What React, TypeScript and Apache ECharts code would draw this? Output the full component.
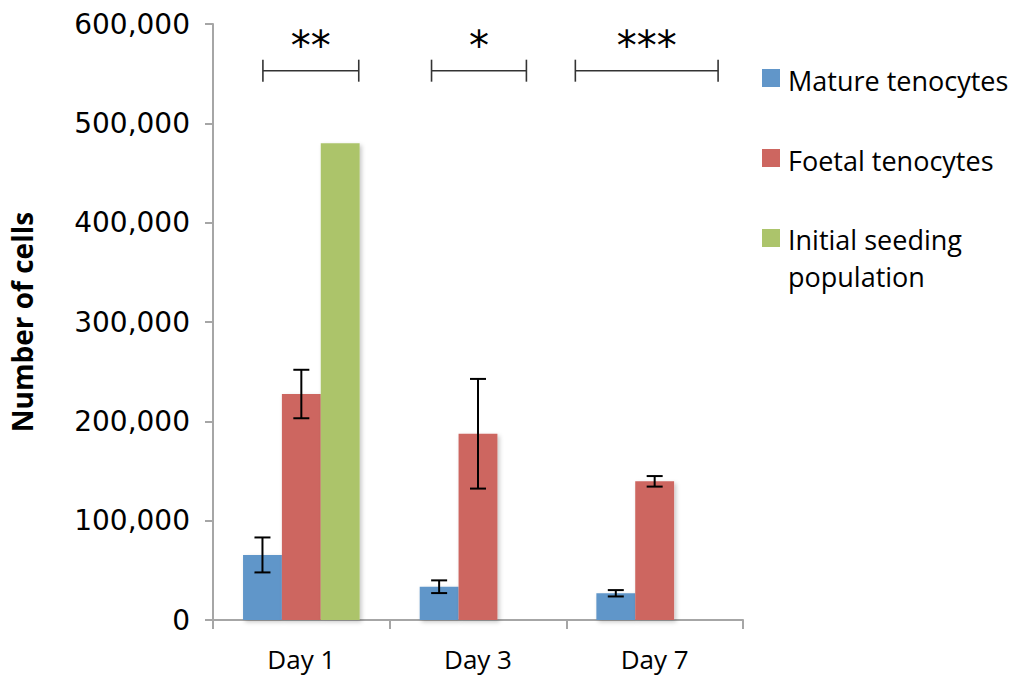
import React, { useEffect, useRef } from "react";
import * as echarts from "echarts";

const categories = ["Day 1", "Day 3", "Day 7"];
const matureValues = [65500, 33500, 26900];
const matureErrors = [17600, 6400, 3200];
const foetalValues = [227500, 187500, 139600];
const foetalErrors = [24400, 55200, 5300];
const seedingValues: (number | null)[] = [480000, null, null];
const seriesNames = ["Mature tenocytes", "Foetal tenocytes", "Initial seeding population"];
const legendLines = [["Mature tenocytes"], ["Foetal tenocytes"], ["Initial seeding", "population"]];
const seriesColors = ["#6196C9", "#CD6660", "#ACC46B"];
const yTicks = { min: 0, max: 600000, interval: 100000 };
const sigLabels = ["**", "*", "***"];
const sigLeft = [-0.2175, -0.263, -0.449];
const sigRight = [0.325, 0.274, 0.359];
const sigLineValue = 553000;
const sigTextValue = 578000;

const FONT = "'Open Sans', 'Noto Sans', sans-serif";

export default function App() {
  const ref = useRef<HTMLDivElement>(null);
  useEffect(() => {
    if (!ref.current) return;
    const chart = echarts.init(ref.current, undefined, { renderer: "svg" });
    const barFrac = 0.22;

    const errData: number[][] = [];
    matureValues.forEach((v, i) => errData.push([i, v, matureErrors[i], 0]));
    foetalValues.forEach((v, i) => errData.push([i, v, foetalErrors[i], 1]));

    const sigData = sigLabels.map((_, i) => [i, sigLineValue, sigLeft[i], sigRight[i], sigTextValue]);

    const shadow = {
      shadowBlur: 4,
      shadowColor: "rgba(0,0,0,0.22)",
      shadowOffsetX: 2,
      shadowOffsetY: 2,
    };

    const legendGraphics: any[] = [];
    const lineCenters = [[80], [160], [239, 276]];
    legendLines.forEach((lines, i) => {
      legendGraphics.push({
        type: "rect",
        x: 762,
        y: 69 + i * 80,
        shape: { width: 18, height: 18 },
        style: { fill: seriesColors[i] },
      });
      lines.forEach((t, j) => {
        legendGraphics.push({
          type: "text",
          x: 788,
          y: lineCenters[i][j],
          style: {
            text: t,
            fontFamily: FONT,
            fontSize: 27,
            fill: "#000",
            align: "left",
            verticalAlign: "middle",
          },
        });
      });
    });

    const option: any = {
      animation: false,
      backgroundColor: "#ffffff",
      grid: { left: 212, right: 282, top: 24, bottom: 57, containLabel: false },
      xAxis: {
        type: "category",
        data: categories,
        boundaryGap: true,
        axisLine: { show: true, lineStyle: { color: "#a6a6a6", width: 2 } },
        axisTick: { show: true, length: 9, alignWithLabel: false, lineStyle: { color: "#a6a6a6", width: 2 } },
        axisLabel: { color: "#000", fontFamily: FONT, fontSize: 26, lineHeight: 28, margin: 25 },
        splitLine: { show: false },
      },
      yAxis: {
        type: "value",
        min: yTicks.min,
        max: yTicks.max,
        interval: yTicks.interval,
        name: "Number of cells",
        nameLocation: "middle",
        nameGap: 177,
        nameTextStyle: { color: "#000", fontFamily: FONT, fontWeight: "bold", fontSize: 28 },
        axisLine: { show: true, lineStyle: { color: "#a6a6a6", width: 2 } },
        axisTick: { show: true, length: 8, lineStyle: { color: "#a6a6a6", width: 2 } },
        axisLabel: {
          color: "#000",
          fontFamily: "'DejaVu Sans', sans-serif",
          fontSize: 28,
          margin: 23,
          formatter: (v: number) => v.toLocaleString("en-US"),
        },
        splitLine: { show: false },
      },
      series: [
        {
          name: seriesNames[0],
          type: "bar",
          data: matureValues,
          barWidth: "22%",
          barGap: "0%",
          itemStyle: { color: seriesColors[0], ...shadow },
        },
        {
          name: seriesNames[1],
          type: "bar",
          data: foetalValues,
          barWidth: "22%",
          barGap: "0%",
          itemStyle: { color: seriesColors[1], ...shadow },
        },
        {
          name: seriesNames[2],
          type: "bar",
          data: seedingValues,
          barWidth: "22%",
          barGap: "0%",
          itemStyle: { color: seriesColors[2], ...shadow },
        },
        {
          type: "custom",
          name: "error",
          data: errData,
          z: 10,
          clip: false,
          renderItem: (params: any, api: any) => {
            const idx = api.value(0);
            const v = api.value(1);
            const e = api.value(2);
            const slot = api.value(3);
            const bandW = api.size([1, 0])[0];
            const barW = bandW * barFrac;
            const cx = api.coord([idx, 0])[0] + (slot - 1) * barW;
            const top = api.coord([idx, v + e])[1];
            const bot = api.coord([idx, v - e])[1];
            const cap = 8;
            const st = { stroke: "#000", lineWidth: 2 };
            return {
              type: "group",
              children: [
                { type: "line", shape: { x1: cx, y1: top, x2: cx, y2: bot }, style: st },
                { type: "line", shape: { x1: cx - cap, y1: top, x2: cx + cap, y2: top }, style: st },
                { type: "line", shape: { x1: cx - cap, y1: bot, x2: cx + cap, y2: bot }, style: st },
              ],
            };
          },
        },
        {
          type: "custom",
          name: "significance",
          data: sigData,
          z: 10,
          clip: false,
          renderItem: (params: any, api: any) => {
            const idx = api.value(0);
            const yv = api.value(1);
            const l = api.value(2);
            const r = api.value(3);
            const tv = api.value(4);
            const bandW = api.size([1, 0])[0];
            const c = api.coord([idx, yv]);
            const x1 = c[0] + l * bandW;
            const x2 = c[0] + r * bandW;
            const y = c[1];
            const ty = api.coord([idx, tv])[1];
            const st = { stroke: "#333", lineWidth: 1.6 };
            return {
              type: "group",
              children: [
                { type: "line", shape: { x1, y1: y, x2, y2: y }, style: st },
                { type: "line", shape: { x1, y1: y - 11, x2: x1, y2: y + 11 }, style: st },
                { type: "line", shape: { x1: x2, y1: y - 11, x2, y2: y + 11 }, style: st },
                {
                  type: "text",
                  style: {
                    text: sigLabels[params.dataIndex],
                    x: (x1 + x2) / 2,
                    y: ty,
                    align: "center",
                    verticalAlign: "middle",
                    fontFamily: "'DejaVu Sans', sans-serif",
                    fontSize: 40,
                    fill: "#000",
                  },
                },
              ],
            };
          },
        },
      ],
      graphic: legendGraphics,
    };
    chart.setOption(option);
    return () => chart.dispose();
  }, []);
  return <div ref={ref} style={{ width: 1025, height: 677, position: "absolute", left: 0, top: 0 }} />;
}
